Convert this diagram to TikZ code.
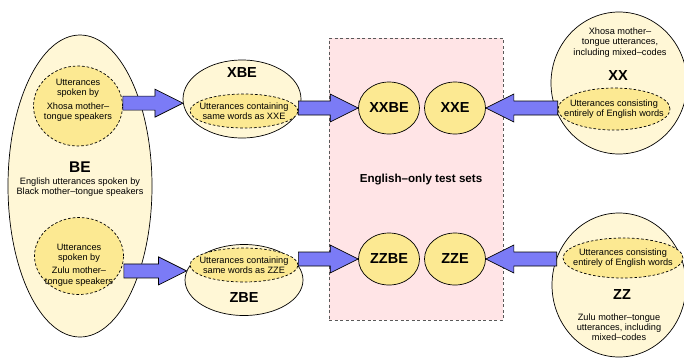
\documentclass[tikz,border=0pt]{standalone}
\usepackage{fontspec}
\setmainfont{Liberation Sans}
\usetikzlibrary{shapes.geometric,calc}
\definecolor{cream}{HTML}{FFF7D6}
\definecolor{yel}{HTML}{FCE992}
\definecolor{pinkbg}{HTML}{FFE4E6}
\definecolor{blu}{HTML}{7B7BF6}
\tikzset{
  outer/.style={ellipse,draw=black,line width=0.7pt,fill=cream,inner sep=0pt},
  inner/.style={ellipse,draw=black,line width=0.7pt,dash pattern=on 2.6pt off 2pt,fill=yel,inner sep=0pt},
  setnode/.style={ellipse,draw=black,line width=0.7pt,fill=yel,inner sep=0pt,minimum width=61pt,minimum height=52pt},
  txt/.style={inner sep=0pt,align=center,font=\smalltxt},
  lbl/.style={inner sep=0pt,font=\bigtxt},
  barrow/.style={fill=blu,draw=black,line width=0.7pt,line join=miter},
}
\newcommand\smalltxt{\fontsize{9.2}{10.2}\selectfont}
\newcommand\bigtxt{\fontsize{14.5}{16}\selectfont\bfseries}
\newcommand\blockarrow[2]{%
  \path (#1 |- #2) coordinate (ba-s) (#2) coordinate (ba-t)
        ($(#2)!28pt!(#1 |- #2)$) coordinate (ba-b);
  \filldraw[barrow] ($(ba-s)+(0,-7)$) -- ($(ba-b)+(0,-7)$) -- ($(ba-b)+(0,-14)$)
     -- (ba-t) -- ($(ba-b)+(0,14)$) -- ($(ba-b)+(0,7)$) -- ($(ba-s)+(0,7)$) -- cycle;}
\begin{document}
\begin{tikzpicture}[x=1pt,y=-1pt]
\useasboundingbox[fill=white] (0,0) rectangle (684,357);
% test set box
\node[draw=black!65,dash pattern=on 3pt off 2.5pt,line width=0.7pt,fill=pinkbg,
      minimum width=174pt,minimum height=282pt,inner sep=0pt] (box) at (416,179) {};
\node[inner sep=0pt,font=\fontsize{11.6}{13}\selectfont\bfseries] (tst) at (421,180) {English–only test sets};
% BE
\node[outer,minimum width=144pt,minimum height=302pt] (be) at (80,186) {};
\node[inner,minimum width=89pt,minimum height=80pt] (xh) at (78,106) {};
\node[txt] (xht) at (78,100) {Utterances\\spoken by\\[3.5pt]Xhosa mother–\\tongue speakers};
\node[inner,minimum width=89pt,minimum height=77pt] (zu) at (79,256) {};
\node[txt] (zut) at (79,265) {Utterances\\spoken by\\[3pt]Zulu mother–\\tongue speakers};
\node[lbl,font=\fontsize{15.5}{17}\selectfont\bfseries] (bel) at (80,167) {BE};
\node[txt] (bet) at (80,187.5) {English utterances spoken by\\Black mother–tongue speakers};
% XBE / ZBE
\node[outer,minimum width=118pt,minimum height=78pt] (xbe) at (242,99) {};
\node[lbl] (xbel) at (242,73) {XBE};
\node[inner,minimum width=108pt,minimum height=34pt] (xbi) at (244,111) {};
\node[txt] (xbit) at (244,111) {Utterances containing\\same words as XXE};
\node[outer,minimum width=118pt,minimum height=71pt] (zbe) at (244,280) {};
\node[inner,minimum width=108pt,minimum height=34pt] (zbi) at (244,265) {};
\node[txt] (zbit) at (244,265) {Utterances containing\\same words as ZZE};
\node[lbl] (zbel) at (244,298) {ZBE};
% test sets
\node[setnode] (xxbe) at (389,108) {};
\node[lbl] at (xxbe) {XXBE};
\node[setnode] (xxe) at (455,108) {};
\node[lbl] at (xxe) {XXE};
\node[setnode] (zzbe) at (389,259) {};
\node[lbl] at (zzbe) {ZZBE};
\node[setnode] (zze) at (455,259) {};
\node[lbl] at (zze) {ZZE};
% XX
\node[outer,minimum width=136pt,minimum height=142pt] (xx) at (619,83) {};
\node[txt] (xxt) at (620,42.5) {Xhosa mother–\\tongue utterances,\\including mixed–codes};
\node[lbl] (xxl) at (618,76) {XX};
\node[inner,minimum width=112pt,minimum height=42pt] (xxi) at (614,109) {};
\node[txt] (xxit) at (614,109) {Utterances consisting\\entirely of English words};
% ZZ
\node[outer,minimum width=134pt,minimum height=144pt] (zz) at (619,285) {};
\node[inner,minimum width=120pt,minimum height=40pt] (zzi) at (623,258) {};
\node[txt] (zzit) at (623,258) {Utterances consisting\\entirely of English words};
\node[lbl] (zzl) at (622,295) {ZZ};
\node[txt] (zzt) at (619,327) {Zulu mother–tongue\\utterances, including\\mixed–codes};
% arrows
\coordinate (zzs) at ($(zzi.west)+(-6,0)$);
\blockarrow{xh.east}{xbe.184}
\blockarrow{zu.east}{zbe.171}
\blockarrow{xbi.east}{xxbe.west}
\blockarrow{zbi.east}{zzbe.west}
\blockarrow{xxi.west}{xxe.east}
\blockarrow{zzs}{zze.east}
\end{tikzpicture}
\end{document}
